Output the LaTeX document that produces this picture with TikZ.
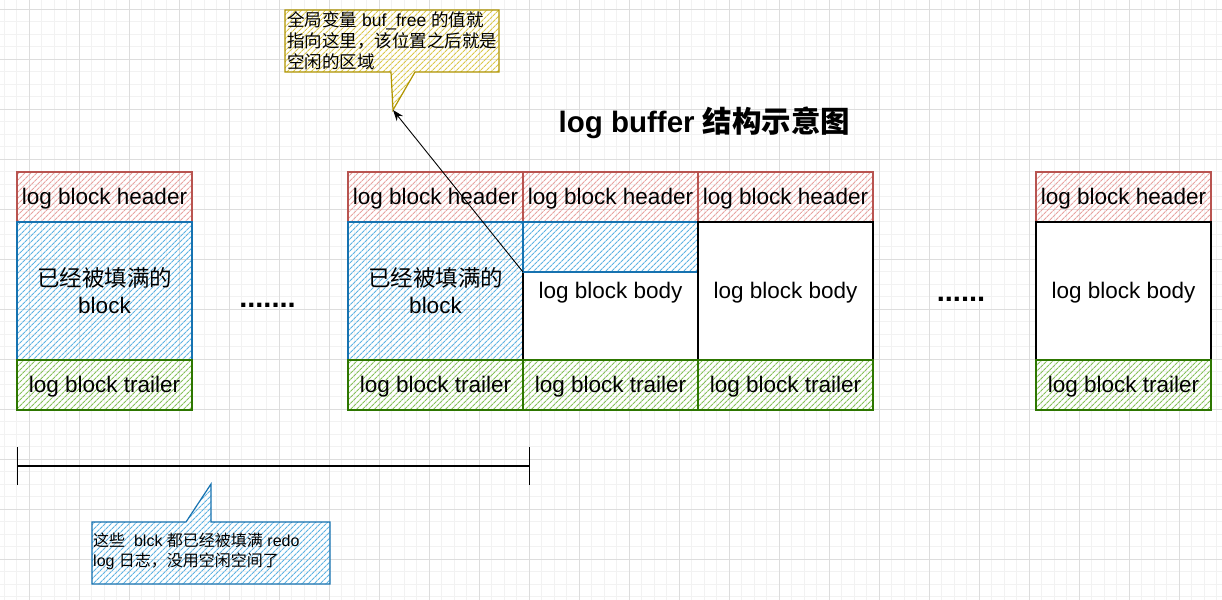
\documentclass[tikz,border=0pt]{standalone}
\usepackage{fontspec}
\setmainfont{Liberation Sans}
\newfontfamily\cjk{Noto Sans CJK SC}
\usetikzlibrary{positioning, patterns.meta, arrows.meta}
\definecolor{gridminor}{HTML}{F2F2F2}
\definecolor{gridmajor}{HTML}{DDDDDD}
\definecolor{hdrline}{HTML}{B85450}
\definecolor{hdrhatch}{HTML}{E8A4A1}
\definecolor{fullline}{HTML}{1672B0}
\definecolor{fullhatch}{HTML}{5EB3E3}
\definecolor{trailline}{HTML}{2D7600}
\definecolor{trailhatch}{HTML}{86C15A}
\definecolor{noteline}{HTML}{B09500}
\definecolor{notehatch}{HTML}{DCC84A}
\newcommand\lbl{\fontsize{22.5}{27}\selectfont}

\tikzset{
  hatch/.style={pattern={Lines[angle=45,distance=4pt,line width=1.1pt]}, pattern color=#1},
  cell/.style={draw, line width=1.2pt, minimum width=175pt, inner sep=0pt, outer sep=0pt, align=center, font=\lbl, text=black},
  oneline/.style={text height=18pt, text depth=2.5pt},
  hdr/.style={cell, oneline, draw=hdrline, hatch=hdrhatch, minimum height=50pt},
  full/.style={cell, draw=fullline, hatch=fullhatch, minimum height=138pt},
  body/.style={cell, oneline, draw=black, fill=white, minimum height=138pt},
  trail/.style={cell, oneline, draw=trailline, hatch=trailhatch, minimum height=50pt},
  dots/.style={font=\fontsize{29}{34}\selectfont\bfseries, inner sep=0pt, anchor=base}
}

\begin{document}
\begin{tikzpicture}[x=1pt, y=-1pt]
  \useasboundingbox[fill=white] (0,0) rectangle (1222,599);
  \begin{scope}
    \clip (0,0) rectangle (1222,599);
    \draw[gridminor, line width=0.8pt, step=12.5pt, shift={(4.3,9.3)}] (-20,620) grid (1240,-20);
    \draw[gridmajor, line width=0.8pt, step=50pt, shift={(29.3,9.3)}] (-60,620) grid (1240,-60);
  \end{scope}

  % title
  \node[font=\fontsize{29.5}{34}\selectfont\bfseries] (title) at (704.5,123) {log buffer {\cjk 结构示意图}};

  % first block
  \node[hdr, anchor=north west] (hdrA) at (17,172) {log block header};
  \node[full, below=0pt of hdrA] (bodyA) {{\cjk 已经被填满的}\\block};
  \node[trail, below=0pt of bodyA] (trailA) {log block trailer};

  \node[dots] (dotsA) at (267.5,307) {.......};

  % blocks in the middle
  \node[hdr, anchor=north west] (hdrB) at (348,172) {log block header};
  \node[full, below=0pt of hdrB] (bodyB) {{\cjk 已经被填满的}\\block};
  \node[trail, below=0pt of bodyB] (trailB) {log block trailer};

  \node[hdr, right=0pt of hdrB] (hdrC) {log block header};
  \node[body, below=0pt of hdrC] (bodyC) {log block body};
  \node[trail, below=0pt of bodyC] (trailC) {log block trailer};
  \node[cell, draw=fullline, hatch=fullhatch, minimum height=50pt, anchor=north west] (fillC) at (bodyC.north west) {};

  \node[hdr, right=0pt of hdrC] (hdrD) {log block header};
  \node[body, below=0pt of hdrD] (bodyD) {log block body};
  \node[trail, below=0pt of bodyD] (trailD) {log block trailer};

  \node[dots] (dotsB) at (961,301) {......};

  % last block
  \node[hdr, anchor=north west] (hdrE) at (1036,172) {log block header};
  \node[body, below=0pt of hdrE] (bodyE) {log block body};
  \node[trail, below=0pt of bodyE] (trailE) {log block trailer};

  % note on buf_free
  \coordinate (tipTop) at (393,110);
  \draw[noteline, line width=1.2pt, hatch=notehatch] (285,10) -- (499,10) -- (499,72) -- (415,72) -- (tipTop) -- (391,72) -- (285,72) -- cycle;
  \node[anchor=north west, inner sep=1pt, align=left, font=\fontsize{17.5}{21}\selectfont] (noteTop) at (286,10)
    {{\cjk 全局变量} buf\_free {\cjk 的值就}\\{\cjk 指向这里，该位置之后就是}\\{\cjk 空闲的区域}};
  \draw[line width=0.9pt, -{Stealth[length=11pt,width=8pt]}] (fillC.south west) -- (tipTop);

  % span of the filled blocks
  \coordinate (spanL) at (17,466);
  \coordinate (spanR) at (530,466);
  \draw[line width=1.6pt, {Bar[width=38pt,line width=1pt]}-{Bar[width=38pt,line width=1pt]}] (spanL) -- (spanR);

  \coordinate (tipBot) at (211,484);
  \draw[fullline, line width=1.2pt, hatch=fullhatch] (92,522) -- (186,522) -- (tipBot) -- (211,522) -- (330,522) -- (330,584) -- (92,584) -- cycle;
  \node[anchor=north west, inner sep=1pt, align=left, font=\fontsize{16}{19.5}\selectfont] (noteBot) at (92,532)
    {{\cjk 这些}\ \ blck {\cjk 都已经被填满} redo\\log {\cjk 日志，没用空闲空间了}};
\end{tikzpicture}
\end{document}
